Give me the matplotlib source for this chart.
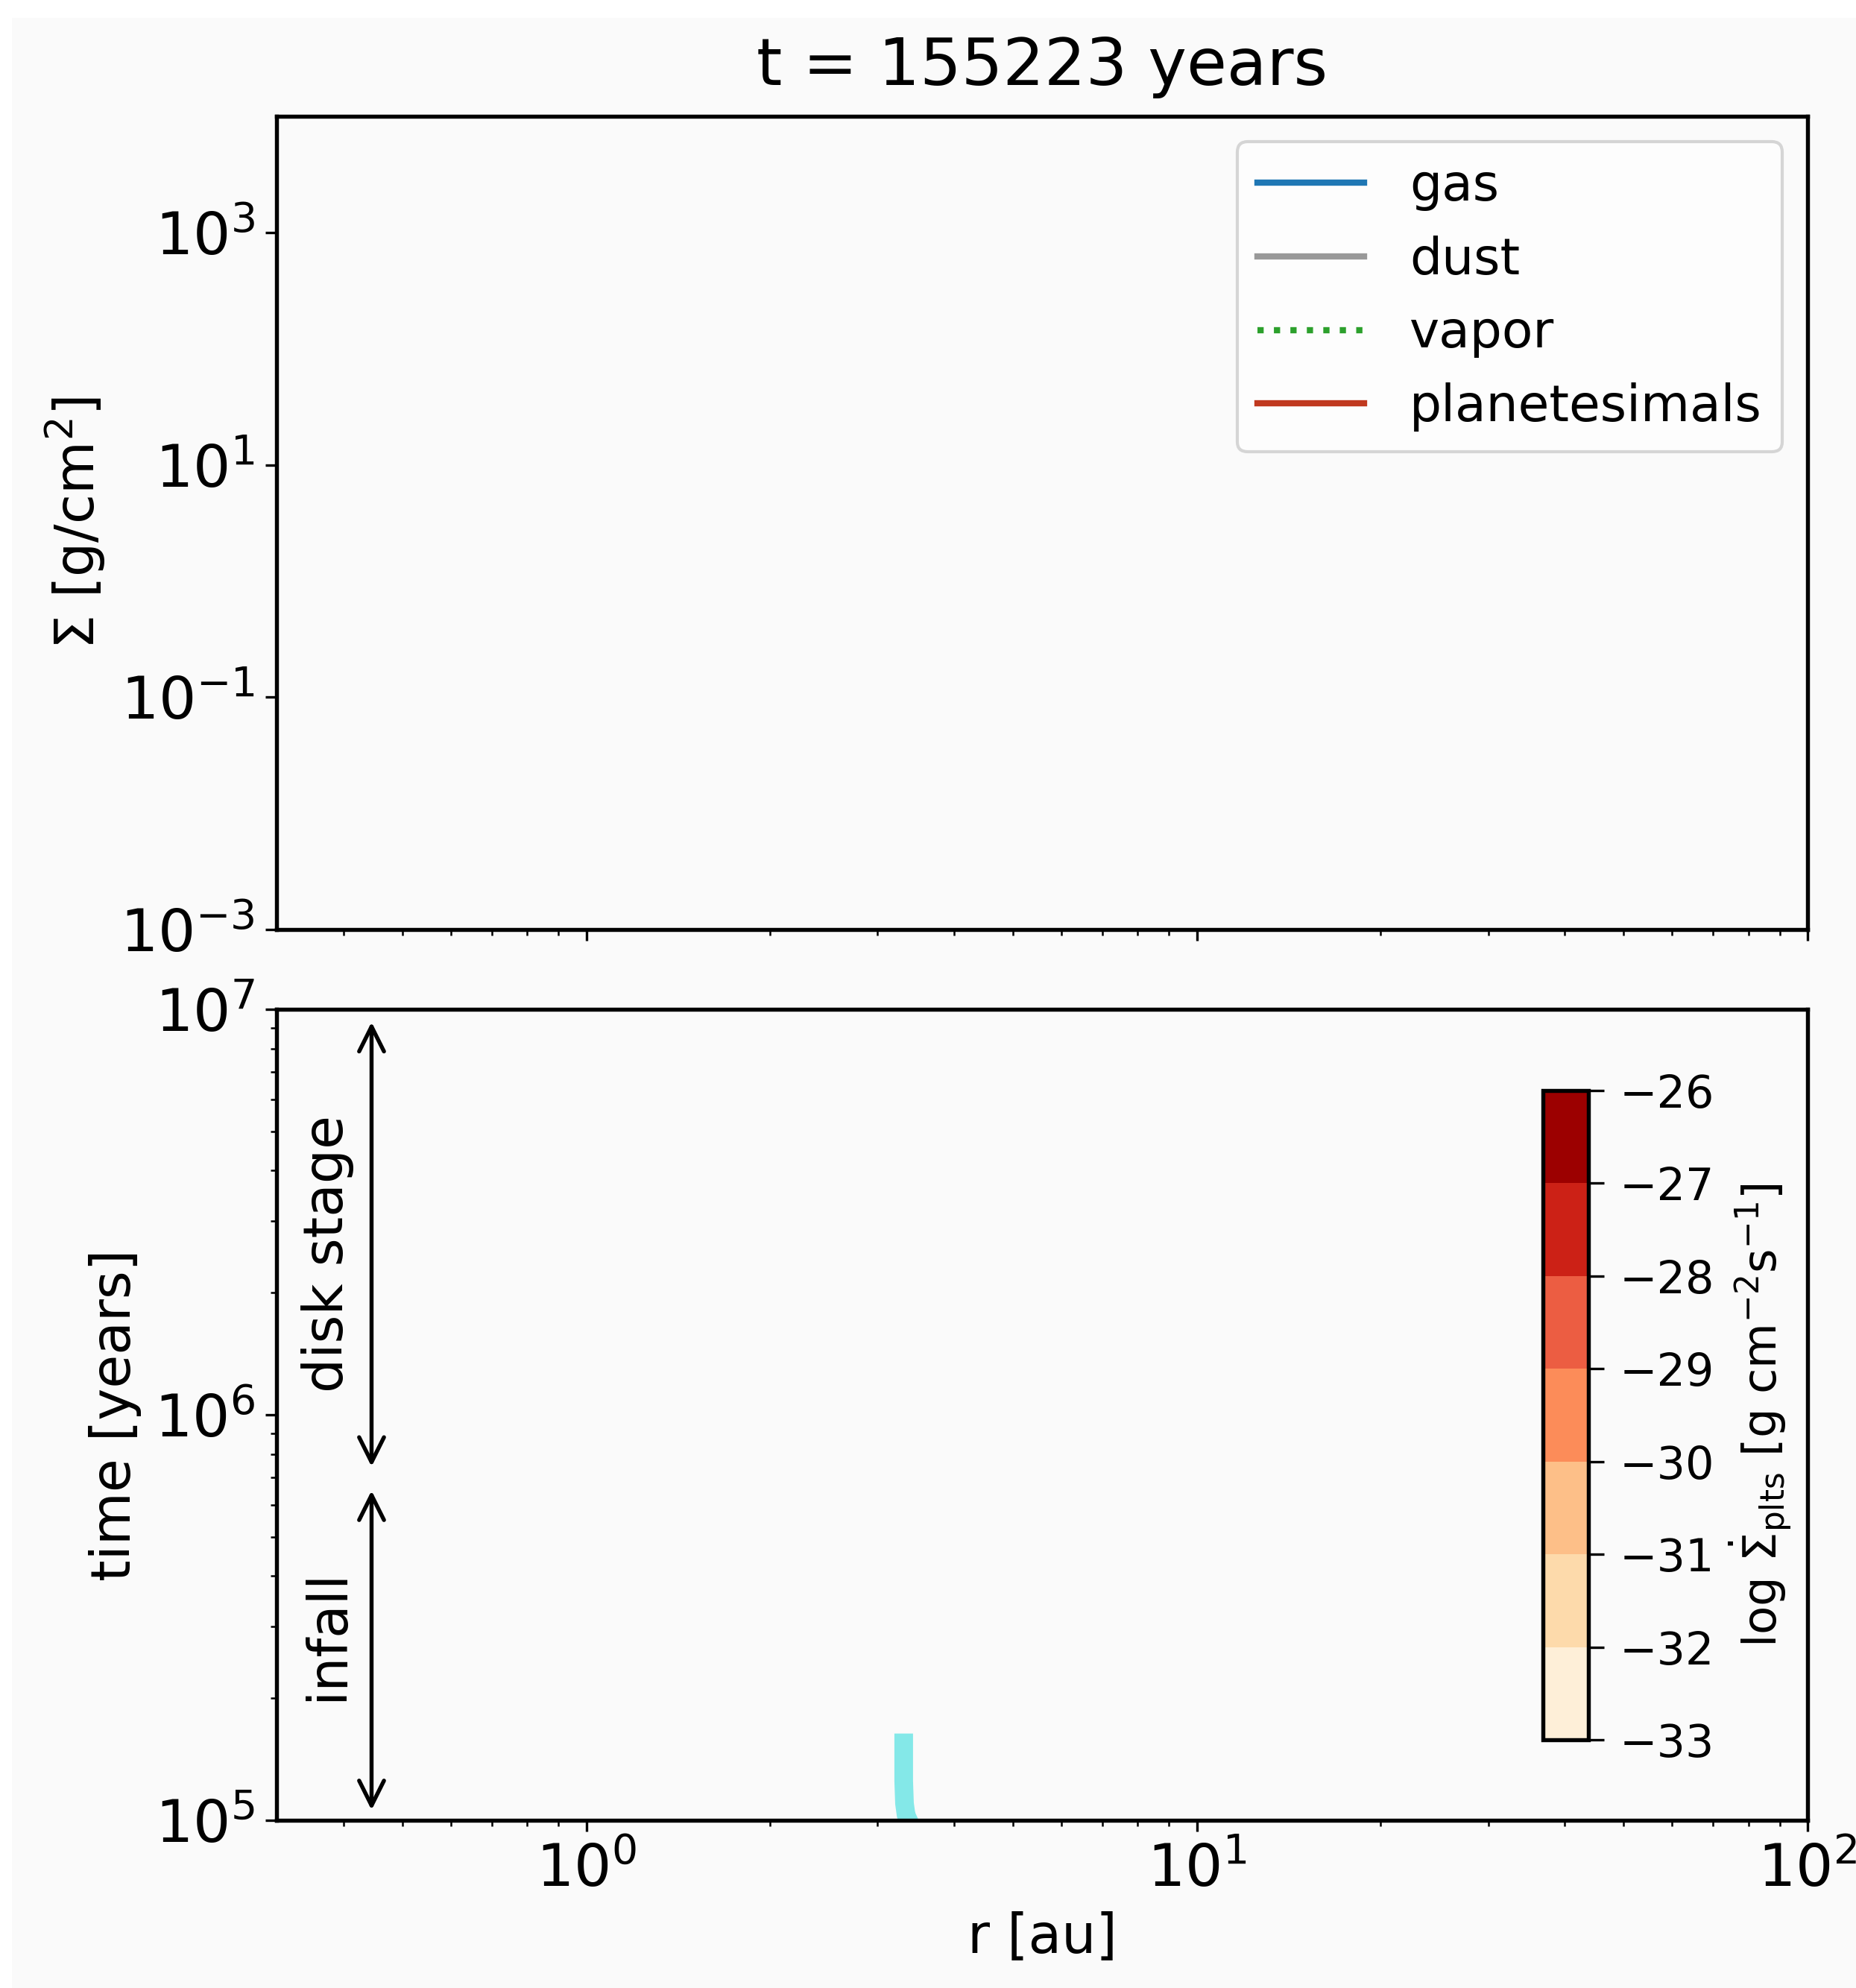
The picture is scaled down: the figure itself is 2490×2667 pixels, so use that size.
import numpy as np
import matplotlib
matplotlib.use("Agg")
import matplotlib.pyplot as plt
from matplotlib.colors import ListedColormap, BoundaryNorm
from matplotlib.cm import ScalarMappable
from matplotlib.patches import Rectangle

# ---------------- data ----------------
title_time = 155223  # years

# top panel series (nothing visible in the current frame)
gas_r, gas_sigma = [], []
dust_r, dust_sigma = [], []
vapor_r, vapor_sigma = [], []
plts_r, plts_sigma = [], []

# snow line track (bottom panel)
snow_t = [1.0e5, 1.03e5, 1.1e5, 1.25e5, 1.4e5, 1.55223e5]
snow_r = [3.37, 3.34, 3.32, 3.31, 3.31, 3.31]

# stage arrows
stage_names = ["disk stage", "infall"]
stage_t_top = [9.3e6, 6.5e5]
stage_t_bottom = [7.45e5, 1.06e5]
stage_text_t = [2.5e6, 2.86e5]

# colorbar levels
cbar_levels = [-33, -32, -31, -30, -29, -28, -27, -26]

# ---------------- style ----------------
plt.rcParams['font.family'] = ['DejaVu Sans']
plt.rcParams['font.size'] = 17.5
plt.rcParams['axes.linewidth'] = 1.3
plt.rcParams['xtick.labelsize'] = 19
plt.rcParams['ytick.labelsize'] = 19
bg = '#fafafa'

W, H = 2490, 2667
fig = plt.figure(figsize=(W / 300, H / 300), dpi=300, facecolor=bg)

# white screenshot border at top / left
fig.patches.append(Rectangle((0, 1 - 22 / H), 1, 22 / H, transform=fig.transFigure,
                             color='white', zorder=-10))
fig.patches.append(Rectangle((0, 0), 14 / W, 1, transform=fig.transFigure,
                             color='white', zorder=-10))

ax1 = fig.add_axes([371 / W, 1 - 1247 / H, (2425 - 371) / W, (1247 - 156) / H], facecolor=bg)
ax2 = fig.add_axes([371 / W, 1 - 2442 / H, (2425 - 371) / W, (2442 - 1354) / H],
                   facecolor=bg, sharex=ax1)

# ---- top panel ----
ax1.plot(gas_r, gas_sigma, color='#1f77b4', lw=2, label='gas')
ax1.plot(dust_r, dust_sigma, color='#999999', lw=2, label='dust')
ax1.plot(vapor_r, vapor_sigma, color='#2ca02c', lw=2, ls=':', label='vapor')
ax1.plot(plts_r, plts_sigma, color='#c0391f', lw=2, label='planetesimals')
ax1.set_xscale('log')
ax1.set_yscale('log')
ax1.set_xlim(0.311, 100)
ax1.set_ylim(1e-3, 1e4)
ax1.set_yticks([1e-3, 1e-1, 1e1, 1e3])
ax1.yaxis.set_minor_locator(matplotlib.ticker.NullLocator())
ax1.set_ylabel(r'$\Sigma$ [g/cm$^2$]')
ax1.tick_params(axis='x', labelbottom=False)
ax1.set_title(f't = {title_time} years', fontsize=21, pad=10)
leg = ax1.legend(loc='upper right', fontsize=16.3, handlelength=2.1, handletextpad=0.9,
                 labelspacing=0.48, framealpha=0.8)

# ---- bottom panel ----
ax2.plot(snow_r, snow_t, color='#84e8e8', lw=6, solid_capstyle='projecting')
ax2.set_yscale('log')
ax2.set_ylim(1e5, 1e7)
ax2.set_xlabel('r [au]')
ax2.set_ylabel('time [years]')

x_arrow = 0.445
for name, t0, t1, tt in zip(stage_names, stage_t_top, stage_t_bottom, stage_text_t):
    ax2.annotate('', xy=(x_arrow, t0), xytext=(x_arrow, t1),
                 arrowprops=dict(arrowstyle='<->', color='black', lw=1.3,
                                 shrinkA=0, shrinkB=0, mutation_scale=20))
    ax2.text(0.377, tt, name, rotation=90, ha='center', va='center', fontsize=17.5)

# ---- colorbar ----
cmap_full = plt.get_cmap('OrRd')
n = len(cbar_levels) - 1
cmap = ListedColormap(cmap_full((np.arange(n) + 0.5) / n))
norm = BoundaryNorm(cbar_levels, n)
cax = fig.add_axes([2070 / W, 1 - 2334 / H, 61 / W, (2334 - 1463) / H])
sm = ScalarMappable(norm=norm, cmap=cmap)
cb = fig.colorbar(sm, cax=cax, ticks=cbar_levels)
cb.ax.tick_params(labelsize=14.5, length=5, pad=5)
cb.set_label(r'log $\dot{\Sigma}_{\rm plts}$ [g cm$^{-2}$s$^{-1}$]', fontsize=15)
cb.outline.set_linewidth(1.3)

fig.savefig('out.png', dpi=300, facecolor=bg)
